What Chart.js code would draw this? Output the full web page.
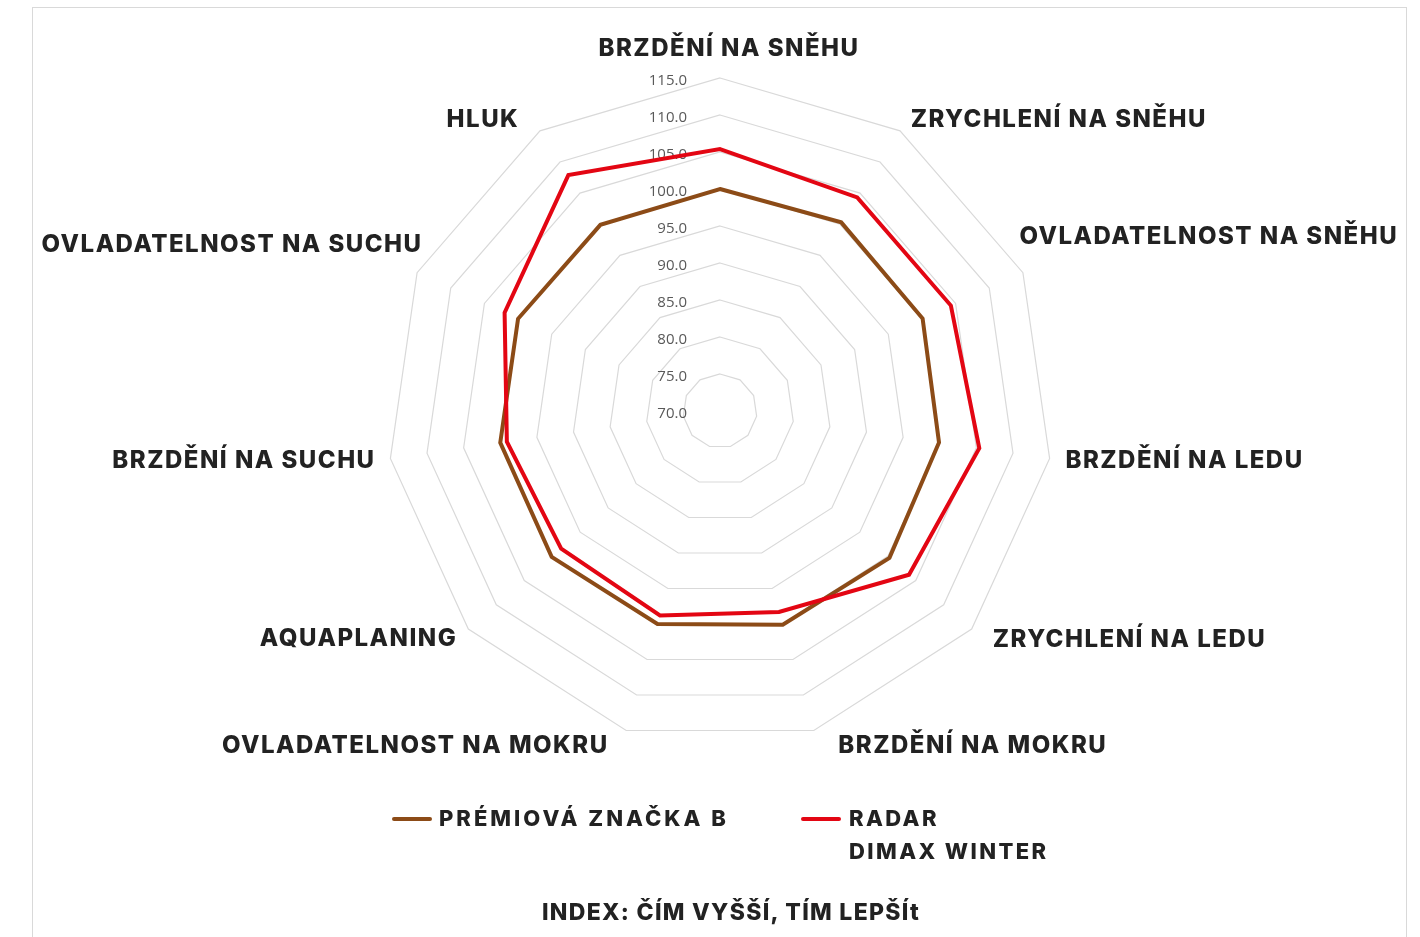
<!DOCTYPE html>
<html lang="cs">
<head>
<meta charset="utf-8">
<title>Index pneumatik</title>
<script src="https://cdn.jsdelivr.net/npm/chart.js@4.4.1/dist/chart.umd.min.js"></script>
<style>
  html, body { margin: 0; padding: 0; background: #fff; }
  body { width: 1420px; height: 937px; position: relative; overflow: hidden; font-family: Inter, "Noto Sans", sans-serif; }
  #frame { position: absolute; left: 32px; top: 7px; width: 1375px; height: 960px; border: 1px solid #d9d9d9; box-sizing: border-box; }
  #radar { position: absolute; left: 0; top: 0; }
  .leg { position: absolute; font-weight: 800; font-size: 22px; letter-spacing: 2.6px; color: #222; line-height: 33px; white-space: nowrap; }
  .leg i { position: absolute; height: 4px; width: 40px; border-radius: 2px; }
  #note { position: absolute; left: 0; width: 1462px; top: 898px; text-align: center; font-weight: 800; font-size: 23px; letter-spacing: 1.3px; color: #222; }
</style>
</head>
<body>
<div id="frame"></div>
<canvas id="radar" width="1420" height="937"></canvas>
<div class="leg" style="left:439px; top:802px; letter-spacing:3px;"><i style="left:-47px; top:15px; background:#8c4b17;"></i>PRÉMIOVÁ ZNAČKA B</div>
<div class="leg" style="left:849px; top:802px; letter-spacing:2.4px;"><i style="left:-48px; top:15px; background:#e30613;"></i>RADAR<br>DIMAX WINTER</div>
<div id="note">INDEX: ČÍM VYŠŠÍ, TÍM LEPŠÍt</div>
<script>
// data
const CATEGORIES = [
  "BRZDĚNÍ NA SNĚHU", "ZRYCHLENÍ NA SNĚHU", "OVLADATELNOST NA SNĚHU", "BRZDĚNÍ NA LEDU",
  "ZRYCHLENÍ NA LEDU", "BRZDĚNÍ NA MOKRU", "OVLADATELNOST NA MOKRU", "AQUAPLANING",
  "BRZDĚNÍ NA SUCHU", "OVLADATELNOST NA SUCHU", "HLUK"
];
const PREMIUM_B = [100.0, 100.3, 100.1, 99.9, 100.3, 100.1, 100.0, 100.1, 100.0, 100.0, 99.9];
const RADAR_DIMAX = [105.4, 104.3, 104.3, 105.4, 103.8, 98.3, 98.8, 98.4, 99.1, 102.0, 107.9];
const SERIES_NAMES = ["PRÉMIOVÁ ZNAČKA B", "RADAR DIMAX WINTER"];
const SCALE_MIN = 70, SCALE_MAX = 115, SCALE_STEP = 5;

// small nudges so the category labels sit where Excel put them
const LABEL_NUDGE = [[9, -13], [2, 2], [-18, -29], [0, 0], [9, 0], [20, 0], [-13, 0], [1, -1], [1, 0], [20, -21], [-12, 2]];

// tick labels left of the vertical axis, under the data lines
const tickLabels = {
  id: "tickLabels",
  beforeDatasetsDraw(chart) {
    const s = chart.scales.r, ctx = chart.ctx;
    ctx.save();
    ctx.font = "15px 'Open Sans', sans-serif";
    ctx.fillStyle = "#595959";
    ctx.textAlign = "right";
    ctx.textBaseline = "middle";
    s.ticks.forEach(t => {
      const d = s.getDistanceFromCenterForValue(t.value);
      ctx.fillText(t.value.toFixed(1), s.xCenter - 33, s.yCenter - d + 2.5);
    });
    ctx.restore();
  }
};

// category labels around the outer ring
const catLabels = {
  id: "catLabels",
  afterDraw(chart) {
    const s = chart.scales.r, ctx = chart.ctx;
    ctx.save();
    ctx.font = "800 24px Inter, sans-serif";
    ctx.letterSpacing = "1.5px";
    ctx.fillStyle = "#222";
    ctx.textBaseline = "middle";
    chart.data.labels.forEach((lab, i) => {
      const p = s.getPointPosition(i, s.drawingArea + 16);
      const sin = Math.sin(s.getIndexAngle(i));
      ctx.textAlign = Math.abs(sin) < 0.05 ? "center" : (sin > 0 ? "left" : "right");
      const n = LABEL_NUDGE[i] || [0, 0];
      ctx.fillText(lab, p.x + n[0], p.y + n[1]);
    });
    ctx.restore();
  }
};

new Chart(document.getElementById("radar"), {
  type: "radar",
  data: {
    labels: CATEGORIES,
    datasets: [
      { label: SERIES_NAMES[0], data: PREMIUM_B, borderColor: "#8c4b17", borderWidth: 4, pointRadius: 0, fill: false, order: 1 },
      { label: SERIES_NAMES[1], data: RADAR_DIMAX, borderColor: "#e30613", borderWidth: 4, pointRadius: 0, fill: false, order: 0 }
    ]
  },
  options: {
    responsive: false, animation: false, devicePixelRatio: 1,
    layout: { padding: { left: 387, right: 367, top: 78, bottom: 193 } },
    elements: { line: { tension: 0 } },
    plugins: { legend: { display: false }, tooltip: { enabled: false } },
    scales: {
      r: {
        min: SCALE_MIN, max: SCALE_MAX,
        ticks: { stepSize: SCALE_STEP, display: false },
        grid: { color: "#d9d9d9", lineWidth: 1.2 },
        angleLines: { display: false },
        pointLabels: { display: false }
      }
    }
  },
  plugins: [tickLabels, catLabels]
});
</script>
</body>
</html>
